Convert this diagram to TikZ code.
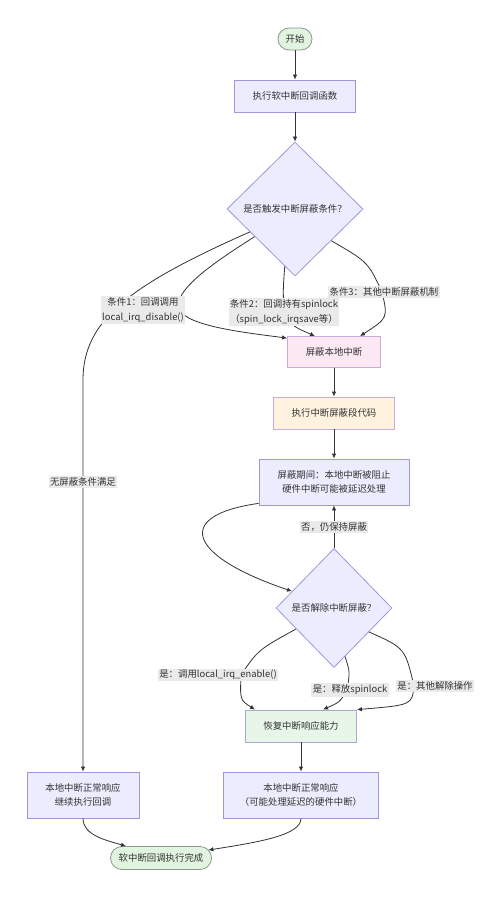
\documentclass[tikz,border=0pt]{standalone}
\usepackage{fontspec}
\setmainfont{Noto Sans CJK SC}
\usetikzlibrary{shapes.geometric}
\usetikzlibrary{arrows.meta}
\usetikzlibrary{calc}
\definecolor{nodefill}{RGB}{236,236,255}
\definecolor{nodeline}{RGB}{160,150,220}
\definecolor{termfill}{RGB}{225,244,223}
\definecolor{termline}{RGB}{140,150,140}
\definecolor{maskfill}{RGB}{252,232,242}
\definecolor{maskline}{RGB}{200,170,215}
\definecolor{codefill}{RGB}{255,243,224}
\definecolor{codeline}{RGB}{195,175,215}
\definecolor{backfill}{RGB}{232,245,233}
\definecolor{backline}{RGB}{165,170,210}
\definecolor{edgecol}{RGB}{51,51,51}
\definecolor{lblfill}{RGB}{234,234,234}
\begin{document}
\begin{tikzpicture}[x=1pt,y=-1pt,
  font=\fontsize{9.4}{13.5}\selectfont, text=edgecol,
  box/.style={draw=nodeline, fill=nodefill, line width=0.8pt, align=center, inner sep=2pt},
  term/.style={box, draw=termline, fill=termfill, rounded corners=11pt, minimum height=22pt},
  dec/.style={box, diamond, inner sep=0pt},
  lbl/.style={fill=lblfill, inner sep=1.5pt, align=center, font=\fontsize{9.4}{15}\selectfont},
  arr/.style={draw=edgecol, line width=0.8pt, -{Latex[length=5pt,width=4.5pt]}}]
\fill[white] (0,0) rectangle (500,898);
\useasboundingbox (0,0) rectangle (500,898);
\node[term, minimum width=34pt] (start) at (295,39) {开始};
\node[box, minimum width=121pt, minimum height=32pt] (call) at (295,96) {执行软中断回调函数};
\node[dec, minimum width=136pt, minimum height=134pt] (chk) at (295,209) {是否触发中断屏蔽条件？};
\node[box, draw=maskline, fill=maskfill, minimum width=93pt, minimum height=31pt] (mask) at (334,352) {屏蔽本地中断};
\node[box, draw=codeline, fill=codefill, minimum width=121pt, minimum height=32pt] (code) at (334,413) {执行中断屏蔽段代码};
\node[box, minimum width=150pt, minimum height=46pt] (hold) at (334,482) {屏蔽期间：本地中断被阻止\\硬件中断可能被延迟处理};
\node[dec, minimum width=116pt, minimum height=119pt] (rel) at (334,608) {是否解除中断屏蔽？};
\node[box, draw=backline, fill=backfill, minimum width=111pt, minimum height=32pt] (back) at (301,726) {恢复中断响应能力};
\node[box, minimum width=112pt, minimum height=46pt] (plain) at (83,795) {本地中断正常响应\\继续执行回调};
\node[box, minimum width=155pt, minimum height=46pt] (late) at (301,795) {本地中断正常响应\\（可能处理延迟的硬件中断）};
\node[term, minimum width=101pt, minimum height=23pt, rounded corners=11.5pt] (done) at (161,858) {软中断回调执行完成};

\draw[arr] (start) -- (call);
\draw[arr] (call) -- (chk);
\draw[arr] ($(chk.west)!0.34!(chk.south)$) .. controls (130,285) and (83,320) .. (83,380) -- node[lbl, pos=0.26]{无屏蔽条件满足} (plain);
\draw[arr] ($(chk.west)!0.41!(chk.south)$) .. controls (205,268) and (180,288) .. (178,305) node[lbl, xshift=-35pt, yshift=-5pt]{条件1：回调调用\\local\_irq\_disable()} .. controls (178,325) and (240,332) .. ([yshift=-2pt]mask.north west);
\draw[arr] ($(chk.west)!0.85!(chk.south)$) .. controls (283,290) .. (284,312) node[lbl]{条件2：回调持有spinlock\\（spin\_lock\_irqsave等）} .. controls (292,326) .. ([xshift=-19pt]mask.north);
\draw[arr] ($(chk.east)!0.47!(chk.south)$) .. controls (368,262) .. (382,292) node[lbl, xshift=2pt]{条件3：其他中断屏蔽机制} .. controls (388,318) .. ([xshift=26pt]mask.north);
\draw[arr] (mask) -- (code);
\draw[arr] (code) -- (hold);
\draw[arr] ([yshift=2pt]hold.south west) .. controls (175,515) and (185,555) .. ($(rel.west)!0.28!(rel.north)$);
\draw[arr] (rel) -- node[lbl]{否，仍保持屏蔽} (hold);
\draw[arr] ($(rel.west)!0.35!(rel.south)$) .. controls (258,650) .. (241,675) node[lbl, xshift=-23pt]{是：调用local\_irq\_enable()} .. controls (240,700) .. ([xshift=-46pt]back.north);
\draw[arr] ($(rel.east)!0.81!(rel.south)$) .. controls (350,672) .. (347,690) node[lbl, xshift=3pt]{是：释放spinlock} .. controls (340,702) .. ([xshift=22pt]back.north);
\draw[arr] ($(rel.east)!0.4!(rel.south)$) .. controls (405,648) .. (414,686) node[lbl, xshift=21pt]{是：其他解除操作} .. controls (412,705) .. (back.north east);
\draw[arr] (back) -- (late);
\draw[arr] (plain.south) .. controls (83,835) and (105,840) .. ([xshift=-35pt]done.north);
\draw[arr] (late.south) .. controls (301,835) and (260,842) .. ([xshift=-3.5pt,yshift=8pt]done.east);
\end{tikzpicture}
\end{document}
